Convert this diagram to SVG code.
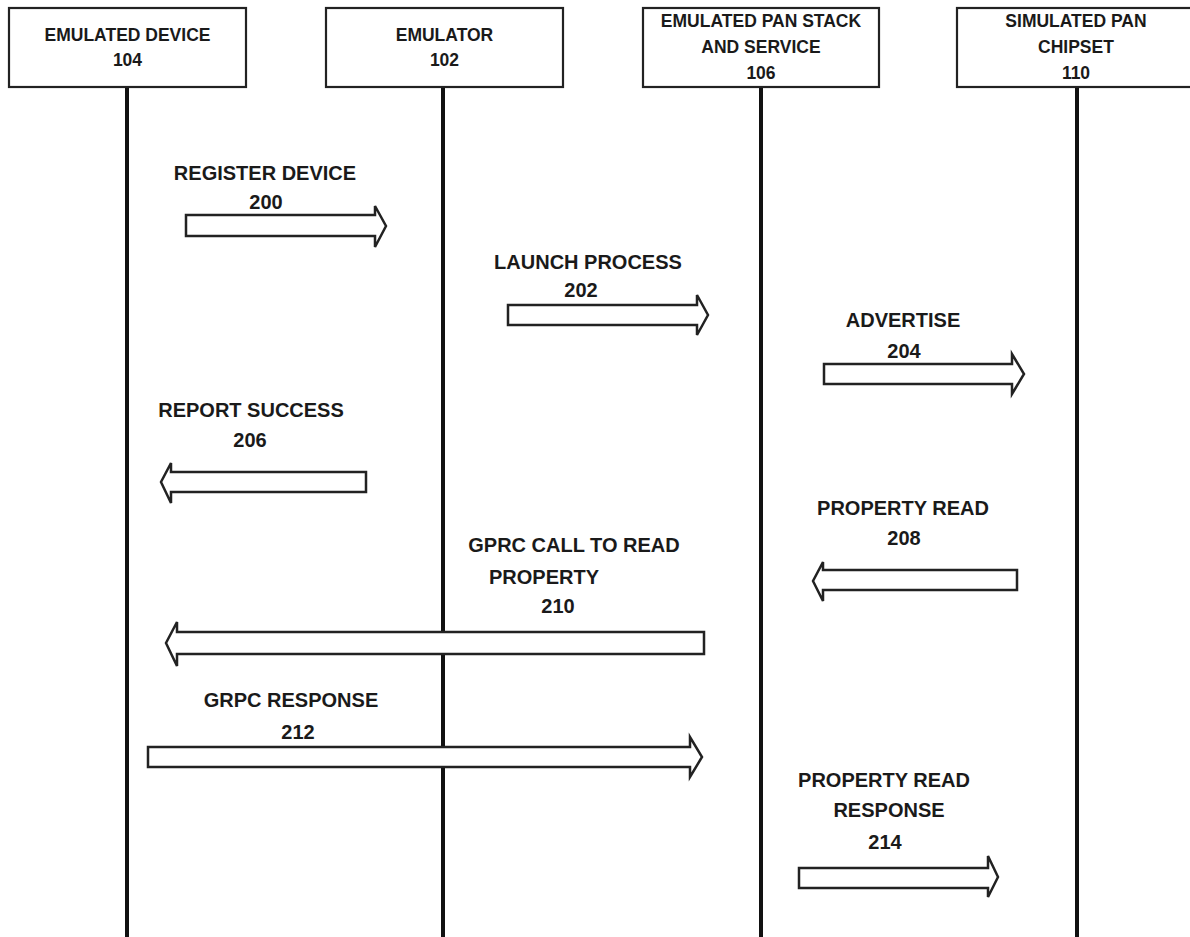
<svg xmlns="http://www.w3.org/2000/svg" width="1190" height="937" viewBox="0 0 1190 937">
<style>
.box{fill:#fff;stroke:#222;stroke-width:2.2}
.life{stroke:#111;stroke-width:4;fill:none}
.arr{fill:#fff;stroke:#222;stroke-width:2.5;stroke-linejoin:miter}
text{font-family:"Liberation Sans",Arial,sans-serif;font-weight:bold;fill:#1a1a1a;text-anchor:middle}
.h{font-size:17.5px}
.l{font-size:20px}
</style>
<rect width="1190" height="937" fill="#fff"/>
<g id="lifelines">
<line class="life" x1="127" y1="87" x2="127" y2="937"/>
<line class="life" x1="443" y1="87" x2="443" y2="937"/>
<line class="life" x1="761" y1="87" x2="761" y2="937"/>
<line class="life" x1="1077" y1="87" x2="1077" y2="937"/>
</g>
<g id="node-104">
<rect class="box" x="9" y="8" width="237" height="79"/>
<text class="h" x="127.5" y="41">EMULATED DEVICE</text>
<text class="h" x="127.5" y="66">104</text>
</g>
<g id="node-102">
<rect class="box" x="326" y="8" width="237" height="79"/>
<text class="h" x="444.5" y="41">EMULATOR</text>
<text class="h" x="444.5" y="66">102</text>
</g>
<g id="node-106">
<rect class="box" x="643" y="8" width="236" height="79"/>
<text class="h" x="761" y="27">EMULATED PAN STACK</text>
<text class="h" x="761" y="53">AND SERVICE</text>
<text class="h" x="761" y="79">106</text>
</g>
<g id="node-110">
<rect class="box" x="957" y="8" width="240" height="79"/>
<text class="h" x="1076" y="27">SIMULATED PAN</text>
<text class="h" x="1076" y="53">CHIPSET</text>
<text class="h" x="1076" y="79">110</text>
</g>
<g id="connectors">
<g id="msg-200">
<path class="arr" d="M186,215 L375,215 L375,206 L386,226 L375,247 L375,236 L186,236 Z"/>
<text class="l" x="265" y="180">REGISTER DEVICE</text>
<text class="l" x="266" y="209">200</text>
</g>
<g id="msg-202">
<path class="arr" d="M508,305 L697,305 L697,295 L708,315 L697,335 L697,325 L508,325 Z"/>
<text class="l" x="588" y="269">LAUNCH PROCESS</text>
<text class="l" x="581" y="297">202</text>
</g>
<g id="msg-204">
<path class="arr" d="M824,364 L1012,364 L1012,354 L1024,374 L1012,394 L1012,384 L824,384 Z"/>
<text class="l" x="903" y="327">ADVERTISE</text>
<text class="l" x="904" y="358">204</text>
</g>
<g id="msg-206">
<path class="arr" d="M366,472 L171,472 L171,463 L161,482 L171,503 L171,492 L366,492 Z"/>
<text class="l" x="251" y="417">REPORT SUCCESS</text>
<text class="l" x="250" y="447">206</text>
</g>
<g id="msg-208">
<path class="arr" d="M1017,570 L823,570 L823,562 L813,581 L823,601 L823,590 L1017,590 Z"/>
<text class="l" x="903" y="515">PROPERTY READ</text>
<text class="l" x="904" y="545">208</text>
</g>
<g id="msg-210">
<path class="arr" d="M704,632 L177,632 L177,622 L166,643 L177,666 L177,654 L704,654 Z"/>
<text class="l" x="574" y="552">GPRC CALL TO READ</text>
<text class="l" x="544" y="584">PROPERTY</text>
<text class="l" x="558" y="613">210</text>
</g>
<g id="msg-212">
<path class="arr" d="M148,747 L690,747 L690,737 L702,757 L690,777 L690,767 L148,767 Z"/>
<text class="l" x="291" y="707">GRPC RESPONSE</text>
<text class="l" x="298" y="739">212</text>
</g>
<g id="msg-214">
<path class="arr" d="M799,868 L988,868 L988,856 L998,877 L988,897 L988,888 L799,888 Z"/>
<text class="l" x="884" y="787">PROPERTY READ</text>
<text class="l" x="889" y="817">RESPONSE</text>
<text class="l" x="885" y="849">214</text>
</g>
</g>
</svg>
